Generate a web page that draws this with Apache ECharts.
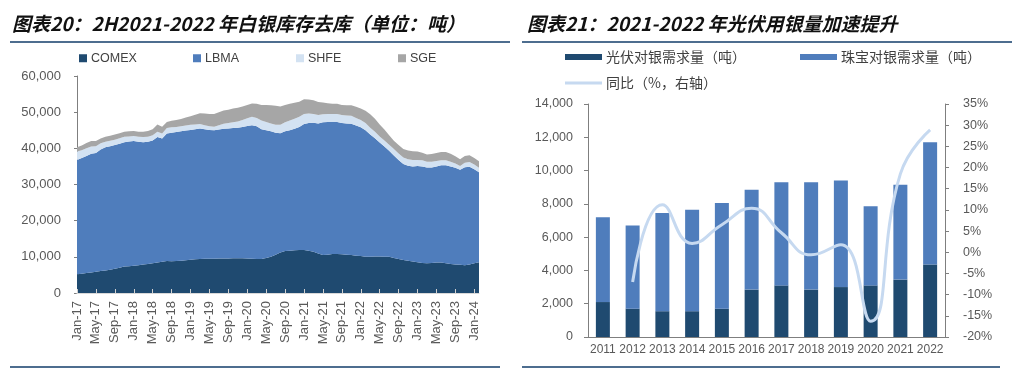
<!DOCTYPE html>
<html>
<head>
<meta charset="utf-8">
<script src="https://cdn.jsdelivr.net/npm/echarts@6/dist/echarts.min.js"></script>
<style>
  html, body { margin: 0; padding: 0; background: #fff; }
  #chart { width: 1024px; height: 375px; }
</style>
</head>
<body>
<div id="chart"></div>
<script>
// 左图：白银库存（吨），月度 Jan-17 ~ Feb-24
var monthNames = ['Jan','Feb','Mar','Apr','May','Jun','Jul','Aug','Sep','Oct','Nov','Dec'];
var months = [];
for (var y = 17; y <= 24; y++) {
  for (var m = 0; m < 12; m++) {
    if (y === 24 && m > 1) break;
    months.push(monthNames[m] + '-' + y);
  }
}

var comex = [5200,5350,5500,5700,5900,6050,6200,6450,6700,6950,7300,7400,7550,7700,7850,8000,8200,8400,8650,8850,
  8800,8850,8900,9050,9200,9300,9400,9450,9500,9500,9550,9550,9550,9600,9600,9600,9550,9500,9400,9400,
  9700,10000,10600,11200,11600,11700,11800,11900,11900,11700,11400,10900,10500,10600,10800,10800,10700,10600,10500,10300,
  10200,10000,10000,10100,10100,10000,10000,9700,9400,9100,8900,8700,8500,8300,8200,8300,8400,8400,8200,8000,
  7900,7800,7700,7900,8200,8500];
var lbma = [31600,31950,32400,32800,32800,33650,34100,34150,34200,34350,34400,34500,34450,34100,33850,33800,34000,34700,34050,35250,
  35500,35650,35800,35850,35900,36000,36100,35850,35600,35500,35650,35850,35950,36000,36100,36300,36650,36900,36700,35900,
  35300,34700,33700,33000,33100,33300,33600,34000,34800,35300,35700,36000,36700,36700,36500,36500,36300,36300,36300,36000,
  35600,35000,33800,32700,31500,30500,29300,28300,27400,26600,26300,26300,26600,26700,26500,26400,26600,26900,27100,27000,
  26700,26300,27100,27000,26000,24900];
var shfe = [2300,2200,2100,2000,1900,1700,1500,1500,1500,1500,1500,1400,1400,1400,1400,1400,1400,1500,1400,1500,
  1500,1400,1400,1400,1400,1300,1200,1100,1000,1000,1200,1400,1500,1600,1700,1900,2100,2300,2300,2400,
  2300,2200,2200,2300,2500,2700,2800,2800,2800,2600,2400,2300,2200,2200,2200,2200,2200,2200,2200,2100,
  2000,2000,1900,1800,1700,1700,1700,1800,1800,1800,1800,1800,1700,1700,1600,1600,1500,1400,1400,1300,
  1200,1000,1200,1300,1300,1200];
var sge = [1200,1300,1500,1500,1400,1300,1400,1400,1400,1400,1400,1400,1400,1400,1500,1600,1700,2000,1900,1700,
  1800,1900,2000,2200,2400,2700,3000,3200,3400,3500,3600,3650,3700,3800,3800,3800,3700,3700,3900,4300,
  4700,5000,5300,5100,4800,4600,4400,4200,4100,3900,3800,3600,3300,3000,2800,2800,2800,2800,2900,3100,
  3200,3400,3700,3600,3300,3000,2600,2300,2300,2300,2400,2400,2300,2100,2000,2100,2200,2300,2300,2200,
  2000,1900,1900,1900,1800,1800];

// 右图：光伏/珠宝用银（吨）与同比（%）
var years = ['2011','2012','2013','2014','2015','2016','2017','2018','2019','2020','2021','2022'];
var pvDemand = [2100,1700,1550,1550,1700,2850,3100,2850,3000,3100,3450,4350];
var jewelryDemand = [5100,5000,5900,6100,6350,6000,6200,6450,6400,4750,5700,7350];
var yoy = [null,-7,11.2,2.1,6.5,10.4,4.6,-0.6,1.8,-16.3,18.5,28.9];

var axisGray = '#7f7f7f';
var labelGray = '#595959';
var font = 'Liberation Sans, Arial, Noto Sans CJK SC, sans-serif';
var cjk = 'Noto Sans CJK SC, sans-serif';

var chart = echarts.init(document.getElementById('chart'), null, { renderer: 'canvas' });

function legendAt(name, left, top, w, h, fontFamily, size) {
  return {
    data: [name], left: left, top: top, itemWidth: w, itemHeight: h, icon: 'rect',
    itemGap: 0, padding: 0,
    textStyle: { color: '#404040', fontSize: size, fontFamily: fontFamily, padding: [0, 0, 0, -1] }
  };
}

var option = {
  animation: false,
  backgroundColor: '#fff',
  graphic: [
    { type: 'text', left: 12, top: 14, style: { text: '图表20：2H2021-2022 年白银库存去库（单位：吨）', font: 'italic bold 19px ' + cjk, fill: '#111' } },
    { type: 'text', left: 527, top: 14, style: { text: '图表21：2021-2022 年光伏用银量加速提升', font: 'italic bold 19px ' + cjk, fill: '#111' } },
    { type: 'rect', shape: { x: 10, y: 41, width: 500, height: 2 }, style: { fill: '#4d6d8f' } },
    { type: 'rect', shape: { x: 522, y: 41, width: 490, height: 2 }, style: { fill: '#4d6d8f' } },
    { type: 'rect', shape: { x: 10, y: 366, width: 490, height: 2 }, style: { fill: '#4d6d8f' } },
    { type: 'rect', shape: { x: 522, y: 366, width: 478, height: 2 }, style: { fill: '#4d6d8f' } }
  ],
  legend: [
    legendAt('COMEX', 79, 52, 8, 8, font, 12.5),
    legendAt('LBMA', 193, 52, 8, 8, font, 12.5),
    legendAt('SHFE', 296, 52, 8, 8, font, 12.5),
    legendAt('SGE', 398, 52, 8, 8, font, 12.5),
    legendAt('光伏对银需求量（吨）', 565, 50, 37, 6, cjk, 14),
    legendAt('珠宝对银需求量（吨）', 800, 50, 37, 6, cjk, 14),
    legendAt('同比（%，右轴）', 565, 76, 37, 3, cjk, 14)
  ],
  grid: [
    { left: 77, right: 545, top: 76, bottom: 82 },
    { left: 588, right: 79, top: 104, bottom: 38 }
  ],
  xAxis: [
    {
      type: 'category', gridIndex: 0, data: months, boundaryGap: false,
      axisLine: { lineStyle: { color: '#d9d9d9' } },
      axisTick: { inside: true, length: 4, interval: 3, lineStyle: { color: '#d0d0d0' } },
      axisLabel: { interval: 3, rotate: 90, color: labelGray, fontSize: 13, fontFamily: font, margin: 8 },
      z: 10
    },
    {
      type: 'category', gridIndex: 1, data: years,
      axisLine: { lineStyle: { color: axisGray } },
      axisTick: { inside: true, length: 4, lineStyle: { color: axisGray } },
      axisLabel: { interval: 0, color: labelGray, fontSize: 12, fontFamily: font, margin: 7 }
    }
  ],
  yAxis: [
    {
      type: 'value', gridIndex: 0, min: 0, max: 60000, interval: 10000,
      axisLine: { show: true, lineStyle: { color: axisGray } },
      axisTick: { show: true, length: 3, lineStyle: { color: axisGray } },
      splitLine: { show: false },
      axisLabel: { color: labelGray, fontSize: 13, fontFamily: font, margin: 16,
        formatter: function (v) { return v.toLocaleString('en-US'); } }
    },
    {
      type: 'value', gridIndex: 1, min: 0, max: 14000, interval: 2000,
      axisLine: { show: true, lineStyle: { color: axisGray } },
      axisTick: { show: true, length: 4, lineStyle: { color: axisGray } },
      splitLine: { show: false },
      axisLabel: { color: labelGray, fontSize: 12.5, fontFamily: font, margin: 15,
        formatter: function (v) { return v.toLocaleString('en-US'); } }
    },
    {
      type: 'value', gridIndex: 1, position: 'right', min: -20, max: 35, interval: 5,
      axisLine: { show: true, lineStyle: { color: axisGray } },
      axisTick: { show: true, length: 4, lineStyle: { color: axisGray } },
      splitLine: { show: false },
      axisLabel: { color: labelGray, fontSize: 12.5, fontFamily: font, margin: 18, formatter: '{value}%' }
    }
  ],
  series: [
    { name: 'COMEX', type: 'line', xAxisIndex: 0, yAxisIndex: 0, stack: 'inv', data: comex,
      symbol: 'none', lineStyle: { width: 0 }, areaStyle: { color: '#1f4a70', opacity: 1 }, itemStyle: { color: '#1f4a70' } },
    { name: 'LBMA', type: 'line', xAxisIndex: 0, yAxisIndex: 0, stack: 'inv', data: lbma,
      symbol: 'none', lineStyle: { width: 0 }, areaStyle: { color: '#4f7dbc', opacity: 1 }, itemStyle: { color: '#4f7dbc' } },
    { name: 'SHFE', type: 'line', xAxisIndex: 0, yAxisIndex: 0, stack: 'inv', data: shfe,
      symbol: 'none', lineStyle: { width: 0 }, areaStyle: { color: '#d3e2f2', opacity: 1 }, itemStyle: { color: '#d3e2f2' } },
    { name: 'SGE', type: 'line', xAxisIndex: 0, yAxisIndex: 0, stack: 'inv', data: sge,
      symbol: 'none', lineStyle: { width: 0 }, areaStyle: { color: '#a6a6a6', opacity: 1 }, itemStyle: { color: '#a6a6a6' } },

    { name: '光伏对银需求量（吨）', type: 'bar', xAxisIndex: 1, yAxisIndex: 1, stack: 'demand', data: pvDemand,
      barWidth: 14, itemStyle: { color: '#1f4a70' } },
    { name: '珠宝对银需求量（吨）', type: 'bar', xAxisIndex: 1, yAxisIndex: 1, stack: 'demand', data: jewelryDemand,
      barWidth: 14, itemStyle: { color: '#4f7dbc' } },
    { name: '同比（%，右轴）', type: 'line', xAxisIndex: 1, yAxisIndex: 2, data: yoy, smooth: 0.5,
      symbol: 'none', lineStyle: { color: '#c6d9f0', width: 3 }, itemStyle: { color: '#c6d9f0' }, z: 5 }
  ]
};

chart.setOption(option);
</script>
</body>
</html>
